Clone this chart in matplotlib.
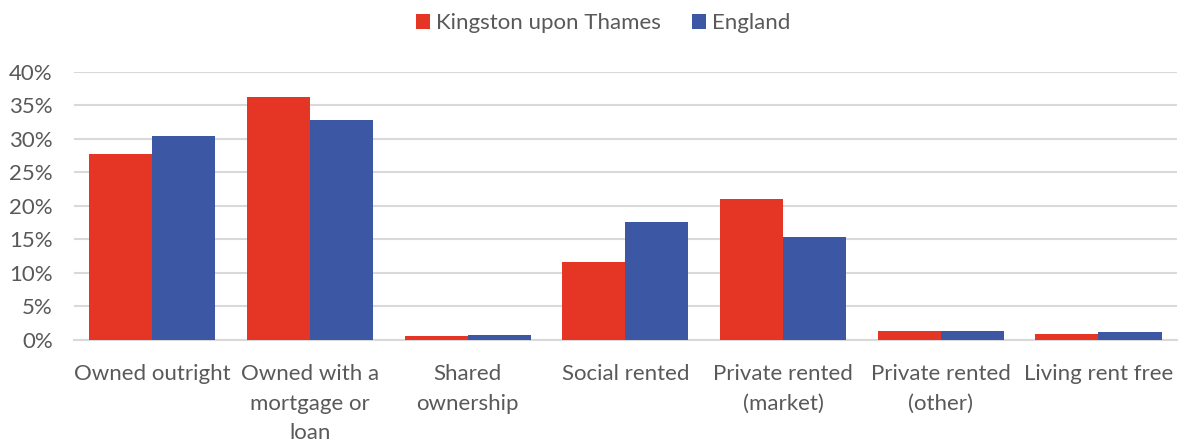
import matplotlib
matplotlib.use("Agg")
import matplotlib.pyplot as plt
import numpy as np

# === Data ===
categories = ["Owned outright", "Owned with a\nmortgage or\nloan", "Shared\nownership",
              "Social rented", "Private rented\n(market)", "Private rented\n(other)",
              "Living rent free"]
kingston = [27.8, 36.2, 0.6, 11.7, 21.0, 1.4, 0.9]
england = [30.5, 32.8, 0.7, 17.6, 15.4, 1.35, 1.25]
series_names = ["Kingston upon Thames", "England"]
y_ticks = [0, 5, 10, 15, 20, 25, 30, 35, 40]

RED = "#E53525"
BLUE = "#3C58A4"
TEXT = "#595959"
GRID = "#D9D9D9"

plt.rcParams['font.family'] = ['Lato', 'DejaVu Sans']

fig = plt.figure(figsize=(11.78, 4.42), dpi=100)
ax = fig.add_axes([0.0624, 0.2308, 0.937, 0.6063])

x = np.arange(len(categories))
w = 0.4
ax.bar(x - w / 2, kingston, w, color=RED, label=series_names[0], zorder=3)
ax.bar(x + w / 2, england, w, color=BLUE, label=series_names[1], zorder=3)

ax.set_xlim(-0.5, len(categories) - 0.5)
ax.set_ylim(0, 40)
ax.set_yticks(y_ticks)
ax.set_yticklabels([f"{t}%" for t in y_ticks])
ax.set_xticks(x)
ax.set_xticklabels(categories, linespacing=1.62)

ax.grid(axis="y", color=GRID, linewidth=1.5, zorder=0)
for s in ["top", "right", "left"]:
    ax.spines[s].set_visible(False)
ax.spines["bottom"].set_color(GRID)
ax.spines["bottom"].set_linewidth(1.5)
ax.tick_params(axis="both", length=0, labelcolor=TEXT, labelsize=16)
ax.tick_params(axis="x", pad=17)
ax.tick_params(axis="y", pad=15)

fig.legend(loc="upper center", bbox_to_anchor=(0.512, 1.015), ncol=2, frameon=False,
           fontsize=16, labelcolor=TEXT, handlelength=0.65, handleheight=0.65,
           handletextpad=0.25, columnspacing=1.4)

fig.savefig("out.png", dpi=100)
